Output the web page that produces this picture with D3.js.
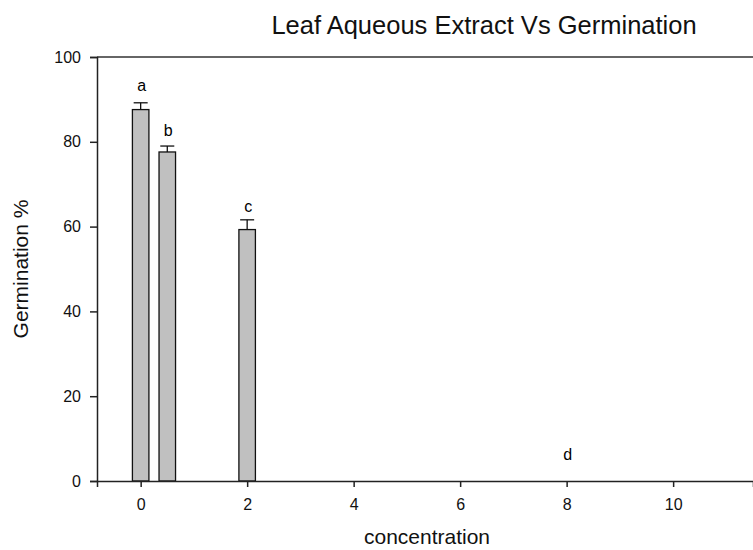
<!DOCTYPE html>
<html>
<head>
<meta charset="utf-8">
<script src="https://cdn.jsdelivr.net/npm/d3@7"></script>
<style>
  body { margin: 0; background: #fff; }
  svg { display: block; }
</style>
</head>
<body>
<div class="chart"></div>
<script>
// chart settings
const width = 753;
const height = 550;
const margin = { top: 57, right: 0, bottom: 69, left: 97 };

// data
const concentrations = [0, 0.5, 2, 8];
const germination = [87.6, 77.6, 59.3, 0];
const errors = [1.6, 1.4, 2.3, 0];
const letters = ["a", "b", "c", "d"];
const letterHeights = [91.9, 81.3, 63.5, 5.0];
const xTicks = [0, 2, 4, 6, 8, 10];
const yTicks = [0, 20, 40, 60, 80, 100];

const barWidth = 0.31;
const font = "Liberation Sans, Arial, sans-serif";

function setup() {
  const data = concentrations.map((c, i) => ({
    conc: c,
    value: germination[i],
    err: errors[i],
    letter: letters[i],
    letterY: letterHeights[i]
  }));

  const svg = d3.select(".chart")
    .append("svg")
    .attr("width", width)
    .attr("height", height)
    .style("font-family", font);

  const x = d3.scaleLinear()
    .domain([-0.82, 11.5])
    .range([margin.left, width - margin.right]);

  const y = d3.scaleLinear()
    .domain([0, 100])
    .range([height - margin.bottom, margin.top]);

  const bw = x(barWidth) - x(0);

  // top frame line
  svg.append("line")
    .attr("x1", x.range()[0]).attr("x2", x.range()[1])
    .attr("y1", y(100)).attr("y2", y(100))
    .attr("stroke", "#333").attr("stroke-width", 1.5);

  // bars
  svg.append("g")
    .selectAll("rect")
    .data(data.filter(d => d.value > 0))
    .join("rect")
      .attr("x", d => x(d.conc) - bw / 2)
      .attr("y", d => y(d.value))
      .attr("width", bw)
      .attr("height", d => y(0) - y(d.value))
      .attr("fill", "#c0c0c0")
      .attr("stroke", "#111")
      .attr("stroke-width", 1.3);

  // error bars (upper only)
  const err = svg.append("g")
    .attr("stroke", "#111")
    .attr("stroke-width", 1.3)
    .selectAll("g")
    .data(data.filter(d => d.err > 0))
    .join("g");

  err.append("line")
    .attr("x1", d => x(d.conc)).attr("x2", d => x(d.conc))
    .attr("y1", d => y(d.value)).attr("y2", d => y(d.value + d.err));

  err.append("line")
    .attr("x1", d => x(d.conc) - 7).attr("x2", d => x(d.conc) + 7)
    .attr("y1", d => y(d.value + d.err)).attr("y2", d => y(d.value + d.err));

  // letters
  svg.append("g")
    .attr("text-anchor", "middle")
    .style("font-size", "16px")
    .selectAll("text")
    .data(data)
    .join("text")
      .attr("x", d => x(d.conc) + 1)
      .attr("y", d => y(d.letterY))
      .text(d => d.letter);

  // axes
  svg.append("g")
    .attr("transform", `translate(0, ${y(0)})`)
    .call(d3.axisBottom(x).tickValues(xTicks).tickSizeOuter(0).tickSize(6).tickPadding(12))
    .call(g => g.selectAll("path, line").attr("stroke", "#222").attr("stroke-width", 1.5))
    .call(g => g.selectAll("text").style("font-size", "16px").style("font-family", font).attr("fill", "#111"));

  svg.append("g")
    .attr("transform", `translate(${margin.left}, 0)`)
    .call(d3.axisLeft(y).tickValues(yTicks).tickSizeOuter(0).tickSize(7).tickPadding(9))
    .call(g => g.selectAll("path, line").attr("stroke", "#222").attr("stroke-width", 1.5))
    .call(g => g.selectAll("text").style("font-size", "16px").style("font-family", font).attr("fill", "#111"));

  // titles
  svg.append("text")
    .attr("x", 484)
    .attr("y", 34)
    .attr("text-anchor", "middle")
    .style("font-size", "25.5px")
    .attr("fill", "#111")
    .text("Leaf Aqueous Extract Vs Germination");

  svg.append("text")
    .attr("x", 427)
    .attr("y", 544)
    .attr("text-anchor", "middle")
    .style("font-size", "21px")
    .attr("fill", "#111")
    .text("concentration");

  svg.append("text")
    .attr("transform", `translate(28, ${(y(0) + y(100)) / 2}) rotate(-90)`)
    .attr("text-anchor", "middle")
    .style("font-size", "21px")
    .attr("fill", "#111")
    .text("Germination %");
}

setup();
</script>
</body>
</html>
